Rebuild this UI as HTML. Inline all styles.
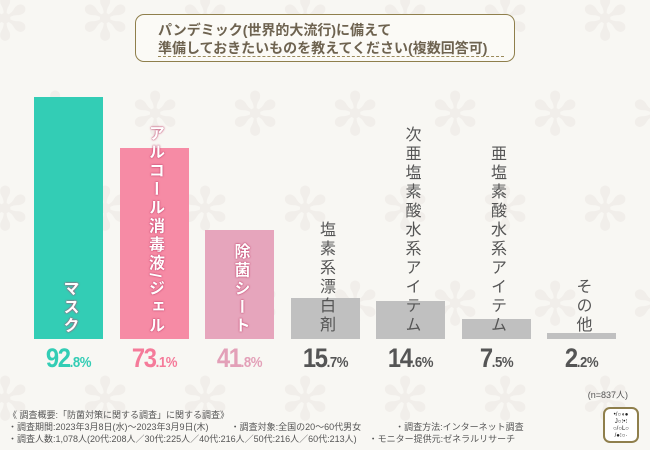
<!DOCTYPE html>
<html><head><meta charset="utf-8">
<style>
body{margin:0;width:650px;height:450px;overflow:hidden;background:#f8f7f3;font-family:"Liberation Sans","Noto Sans CJK JP",sans-serif;position:relative}
#title{position:absolute;left:135px;top:14px;width:380px;height:48px;border:1.5px solid #8f7f4c;border-radius:9px;box-sizing:border-box;background:#fbfaf6}
#title .t{position:absolute;left:22px;top:6px;font-size:14px;line-height:18px;color:#6e6350;font-weight:bold}
#title .d{position:absolute;left:22px;right:10px;bottom:4px;border-top:1px dashed #9a8a5a}
.bar{position:absolute}
.lbl{position:absolute;writing-mode:vertical-rl;font-size:16px;letter-spacing:1.5px;font-weight:bold;line-height:1}
.val{position:absolute;top:343px;text-align:center;font-weight:bold;font-size:27px;letter-spacing:-1.5px;transform:scaleX(0.88)}
.val small{font-size:15px;letter-spacing:-0.5px}
.notes{position:absolute;left:8px;top:409px;font-size:9px;line-height:12px;color:#555}
.flake{position:absolute;color:#f1eeea;font-size:60px;line-height:1}
</style></head><body>
<div id="bg"></div>
<div id="title"><div class="t">パンデミック(世界的大流行)に備えて<br>準備しておきたいものを教えてください(複数回答可)</div><div class="d"></div></div>
<div id="chart"></div>
<div style="position:absolute;right:22px;top:388px;font-size:9px;color:#555">(n=837人)</div>
<div class="notes">
《 調査概要:「防菌対策に関する調査」に関する調査》<br>
・調査期間:2023年3月8日(水)～2023年3月9日(木)<span style="margin-left:22px">・調査対象:全国の20～60代男女</span><span style="margin-left:34px">・調査方法:インターネット調査</span><br>
・調査人数:1,078人(20代:208人／30代:225人／40代:216人／50代:216人／60代:213人)<span style="margin-left:12px">・モニター提供元:ゼネラルリサーチ</span>
</div>
<div style="position:absolute;left:603px;top:407px;width:36px;height:36px;border:2px solid #8f7f4c;border-radius:7px;box-sizing:border-box;background:#fff;font-size:6px;line-height:7px;text-align:center;padding-top:3px;color:#222">•/○◖●<br>J○⁝•⁝<br>○/○L○<br>/●⁝○·</div>
<script>
const categories=["マスク","アルコール消毒液/ジェル","除菌シート","塩素系漂白剤","次亜塩素酸水系アイテム","亜塩素酸水系アイテム","その他"];
const values=[92.8,73.1,41.8,15.7,14.6,7.5,2.2];
const valueLabels=["92.8","73.1","41.8","15.7","14.6","7.5","2.2"];
const colors=["#33cdb5","#f68ba5","#e6a5bc","#c0c0c0","#c0c0c0","#c0c0c0","#c0c0c0"];
const textColors=["#33cdb5","#f57b9a","#e3a0b8","#555","#555","#555","#555"];
const base=339, scale=2.61, x0=34, pitch=85.5, bw=69;
const y=v=>base-v*scale;
const xPos=i=>x0+i*pitch;
const chart=document.getElementById('chart');
const bg=document.getElementById('bg');
for(let r=0;r<5;r++)for(let c=0;c<7;c++){const f=document.createElement('div');f.className='flake';f.textContent='✻';f.style.left=(c*100+(r%2)*50-20)+'px';f.style.top=(r*95-10)+'px';


bg.appendChild(f);}
values.forEach((v,i)=>{
 const b=document.createElement('div');b.className='bar';
 
 
 b.style.left=xPos(i)+'px';b.style.width=bw+'px';b.style.top=y(v)+'px';b.style.height=(base-y(v))+'px';b.style.background=colors[i];
 chart.appendChild(b);
 const l=document.createElement('div');l.className='lbl';
 
 
 l.textContent=categories[i];
 if(i<3){l.style.color='#fff';l.style.textShadow='0 0 2px #c0406a,0 0 1px #c0406a';l.style.letterSpacing='2.5px';}
 else{l.style.color='#555';l.style.fontWeight='normal';l.style.letterSpacing='3px';}
 l.style.left=(xPos(i)+bw/2-8)+'px';l.style.bottom=(450-335)+'px';
 chart.appendChild(l);
 const t=document.createElement('div');t.className='val';
 
 
 const p=valueLabels[i].split('.');
 t.innerHTML=p[0]+'<small>.'+p[1]+'%</small>';
 t.style.left=(xPos(i)-10)+'px';t.style.width=(bw+20)+'px';t.style.color=textColors[i];
 chart.appendChild(t);
});
</script>
</body></html>
